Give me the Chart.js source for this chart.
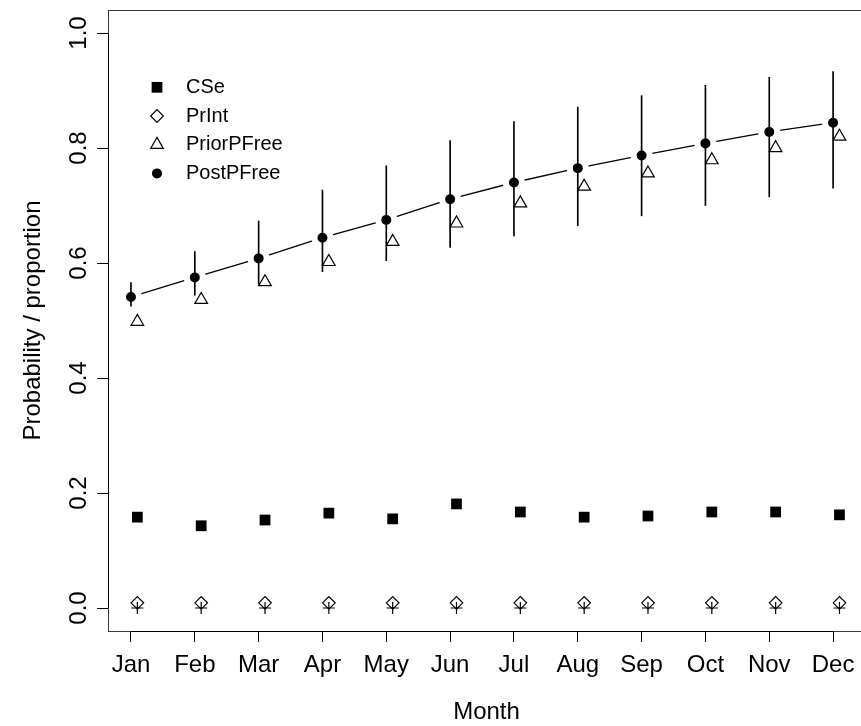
<!DOCTYPE html>
<html>
<head>
<meta charset="utf-8">
<title>Monthly probabilities</title>
<script src="https://cdn.jsdelivr.net/npm/chart.js@4.4.1/dist/chart.umd.min.js"></script>
<style>
  html, body { margin: 0; padding: 0; background: #fff; overflow: hidden; }
</style>
</head>
<body>
<canvas id="probChart" width="870" height="726"></canvas>
<script>
const months = ['Jan', 'Feb', 'Mar', 'Apr', 'May', 'Jun', 'Jul', 'Aug', 'Sep', 'Oct', 'Nov', 'Dec'];
const monthIdx = [1, 2, 3, 4, 5, 6, 7, 8, 9, 10, 11, 12];

const cse = [0.158, 0.143, 0.153, 0.165, 0.155, 0.181, 0.167, 0.158, 0.160, 0.167, 0.167, 0.162];
const prInt = [0.009, 0.009, 0.009, 0.009, 0.009, 0.009, 0.009, 0.009, 0.009, 0.009, 0.009, 0.009];
const baseMark = [0, 0, 0, 0, 0, 0, 0, 0, 0, 0, 0, 0];
const priorPFree = [0.498, 0.536, 0.567, 0.602, 0.637, 0.669, 0.704, 0.733, 0.756, 0.779, 0.800, 0.820];
const postPFree = [0.541, 0.575, 0.608, 0.644, 0.675, 0.711, 0.740, 0.765, 0.787, 0.808, 0.828, 0.844];
const postLow = [0.525, 0.544, 0.563, 0.585, 0.604, 0.627, 0.647, 0.665, 0.682, 0.700, 0.715, 0.730];
const postHigh = [0.566, 0.620, 0.673, 0.727, 0.769, 0.813, 0.846, 0.871, 0.891, 0.909, 0.923, 0.933];

const yTicks = [0, 0.2, 0.4, 0.6, 0.8, 1.0];

// the open / square symbols sit a little to the right of the month
const shift = 0.1;

const FONT = '"Liberation Sans", Arial, Helvetica, sans-serif';
Chart.defaults.font.family = FONT;
Chart.defaults.color = '#000';

const pts = (vals, dx) => monthIdx.map((m, i) => ({ x: m + dx, y: vals[i] }));

// box, axis lines, rotated y labels and the legend
const frame = {
  id: 'frame',
  afterDraw(chart) {
    const { ctx, chartArea: a, scales: { x, y } } = chart;
    ctx.save();
    ctx.lineWidth = 1;
    ctx.strokeStyle = '#3a3a3a';
    ctx.strokeRect(a.left + 0.5, a.top + 0.5, a.right - a.left, a.bottom - a.top);

    ctx.strokeStyle = '#000';
    ctx.beginPath();
    ctx.moveTo(x.getPixelForValue(1), a.bottom + 0.5);
    ctx.lineTo(x.getPixelForValue(12), a.bottom + 0.5);
    ctx.moveTo(a.left + 0.5, y.getPixelForValue(0));
    ctx.lineTo(a.left + 0.5, y.getPixelForValue(1));
    ctx.stroke();

    ctx.fillStyle = '#000';
    ctx.font = '24px ' + FONT;
    ctx.textAlign = 'center';
    ctx.textBaseline = 'alphabetic';
    yTicks.forEach(v => {
      ctx.save();
      ctx.translate(86, y.getPixelForValue(v));
      ctx.rotate(-Math.PI / 2);
      ctx.fillText(v.toFixed(1), 0, 0);
      ctx.restore();
    });

    // legend
    const rows = chart.data.datasets.filter(d => d.legendMark);
    rows.forEach((d, i) => {
      const ly = 87.3 + i * 28.7;
      const mk = d.legendMark;
      ctx.fillStyle = mk.fill;
      ctx.strokeStyle = '#000';
      ctx.lineWidth = mk.borderWidth;
      Chart.helpers.drawPoint(ctx, { pointStyle: mk.style, radius: mk.radius, rotation: 0, borderWidth: mk.borderWidth }, 157, ly);
      ctx.fillStyle = '#000';
      ctx.font = '20px ' + FONT;
      ctx.textAlign = 'left';
      ctx.textBaseline = 'middle';
      ctx.fillText(d.label, 186, ly);
    });
    ctx.restore();
  }
};

const grid = { offset: false, drawOnChartArea: false, drawTicks: true, tickLength: 11, tickColor: '#000', tickWidth: 1 };

new Chart(document.getElementById('probChart'), {
  type: 'scatter',
  data: {
    datasets: [
      {
        label: 'CSe',
        data: pts(cse, shift),
        pointStyle: 'rect',
        pointRadius: 7.6,
        pointBackgroundColor: '#000',
        pointBorderWidth: 0,
        legendMark: { style: 'rect', radius: 7.6, fill: '#000', borderWidth: 0 },
        order: 1
      },
      {
        label: 'PrInt',
        data: pts(prInt, shift),
        pointStyle: 'rectRot',
        pointRadius: 6.3,
        pointBackgroundColor: 'rgba(0,0,0,0)',
        pointBorderColor: '#000',
        pointBorderWidth: 1.2,
        legendMark: { style: 'rectRot', radius: 6.3, fill: 'rgba(0,0,0,0)', borderWidth: 1.2 },
        order: 2
      },
      {
        label: 'PriorPFree',
        data: pts(priorPFree, shift),
        pointStyle: 'triangle',
        pointRadius: 7.3,
        pointBackgroundColor: 'rgba(0,0,0,0)',
        pointBorderColor: '#000',
        pointBorderWidth: 1.2,
        legendMark: { style: 'triangle', radius: 7.3, fill: 'rgba(0,0,0,0)', borderWidth: 1.2 },
        order: 1
      },
      {
        // white ring around each dot leaves the gap in the line
        label: 'PostPFree',
        data: pts(postPFree, 0),
        showLine: true,
        borderColor: '#000',
        borderWidth: 1.3,
        pointStyle: 'circle',
        pointRadius: 8,
        pointBorderWidth: 6,
        pointBorderColor: '#fff',
        pointBackgroundColor: '#000',
        legendMark: { style: 'circle', radius: 5, fill: '#000', borderWidth: 0 },
        order: 5
      },
      {
        type: 'bar',
        label: 'PostPFree range',
        data: monthIdx.map((m, i) => ({ x: m, y: [postLow[i], postHigh[i]] })),
        backgroundColor: '#000',
        barThickness: 1,
        grouped: false,
        order: 4
      },
      {
        label: '',
        data: pts(baseMark, shift),
        pointStyle: 'cross',
        pointRadius: 6,
        pointBorderColor: '#000',
        pointBorderWidth: 1.2,
        order: 3
      }
    ]
  },
  options: {
    responsive: false,
    animation: false,
    events: [],
    layout: { autoPadding: false, padding: { top: 10, right: 5, bottom: 0, left: 0 } },
    plugins: { legend: { display: false }, tooltip: { enabled: false } },
    scales: {
      x: {
        type: 'linear',
        min: 0.64,
        max: 12.5,
        offset: false,
        afterBuildTicks: s => { s.ticks = monthIdx.map(v => ({ value: v })); },
        afterFit: s => { s.height = 95; },
        border: { display: false },
        grid: grid,
        ticks: {
          callback: v => months[Math.round(v) - 1],
          font: { size: 24, lineHeight: 1 },
          padding: 11.5,
          maxRotation: 0,
          autoSkip: false,
          color: '#000'
        },
        title: { display: true, text: 'Month', font: { size: 24, lineHeight: 1 }, padding: { top: 0, bottom: 1.3 }, color: '#000' }
      },
      y: {
        type: 'linear',
        min: -0.04,
        max: 1.04,
        afterBuildTicks: s => { s.ticks = yTicks.map(v => ({ value: v })); },
        afterFit: s => { s.width = 108; },
        border: { display: false },
        grid: grid,
        ticks: { display: false },
        title: { display: true, text: 'Probability / proportion', font: { size: 24, lineHeight: 1 }, padding: { top: 21.7, bottom: 0 }, color: '#000' }
      }
    }
  },
  plugins: [frame]
});
</script>
</body>
</html>
